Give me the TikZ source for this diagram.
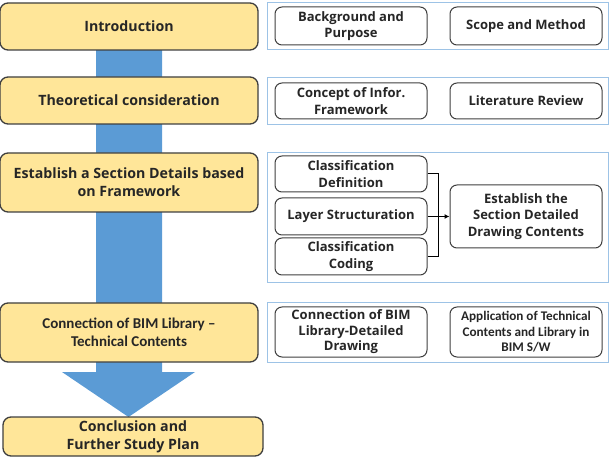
\documentclass[tikz,border=0pt]{standalone}
\usepackage{fontspec}
\setmainfont{Open Sans}
\newfontfamily\calfont{Carlito}
\usetikzlibrary{arrows.meta}
\definecolor{ybox}{HTML}{FFE699}
\definecolor{yline}{HTML}{3F3F3F}
\definecolor{barblue}{HTML}{5B9BD5}
\definecolor{panelline}{HTML}{9DC3E6}
\definecolor{txt}{HTML}{262626}
\begin{document}
\begin{tikzpicture}[x=1pt,y=-1pt,
  leftbox/.style={draw=yline,line width=1.3pt,fill=ybox,rounded corners=8pt,
    minimum width=258pt,align=center,inner sep=0pt,text=txt,
    font=\fontsize{14.2}{18}\selectfont\bfseries},
  panelbox/.style={draw=panelline,line width=1pt,fill=white,minimum width=341pt,inner sep=0pt},
  innerbox/.style={draw=yline,line width=1pt,fill=white,rounded corners=7pt,
    minimum width=152pt,align=center,inner sep=0pt,text=txt,
    font=\fontsize{13}{16.5}\selectfont\bfseries},
  linkline/.style={draw=black,line width=1pt}]
\useasboundingbox (0,0) rectangle (611,457);
% blue arrow
\fill[barblue] (96,40) -- (96,372) -- (62,372) -- (128.5,417) -- (195,372) -- (162,372) -- (162,40) -- cycle;
% left steps
\node[leftbox,minimum height=47pt] (intro) at (129,26.5) {Introduction};
\node[leftbox,minimum height=47pt] (theo) at (129,100.5) {Theoretical consideration};
\node[leftbox,minimum height=59pt] (estab) at (129,182.5) {Establish a Section Details based\\on Framework};
\node[leftbox,minimum height=59pt,font=\calfont\fontsize{15}{18}\selectfont\bfseries] (cbim) at (129,332.5) {Connection of BIM Library –\\Technical Contents};
\node[leftbox,minimum height=39pt,minimum width=260pt] (concl) at (133,436.5) {Conclusion and\\Further Study Plan};
% panels
\node[panelbox,minimum height=47pt] (p1) at (437.5,26.5) {};
\node[panelbox,minimum height=47pt] (p2) at (437.5,101.5) {};
\node[panelbox,minimum height=130pt] (p3) at (437.5,218) {};
\node[panelbox,minimum height=59pt] (p4) at (437.5,332.5) {};
% inner boxes
\node[innerbox,minimum height=38pt] (bg) at (351,26) {Background and\\Purpose};
\node[innerbox,minimum height=38pt] (sm) at (526,26) {Scope and Method};
\node[innerbox,minimum height=36pt] (cif) at (351,101) {Concept of Infor.\\Framework};
\node[innerbox,minimum height=36pt] (lr) at (526,101) {Literature Review};
\node[innerbox,minimum height=36pt] (cd) at (351,174) {Classification\\Definition};
\node[innerbox,minimum height=37pt] (ls) at (351,216.5) {Layer Structuration};
\node[innerbox,minimum height=37pt] (cc) at (351,256.5) {Classification\\Coding};
\node[innerbox,minimum height=63pt] (est) at (526,216.5) {Establish the\\Section Detailed\\Drawing Contents};
\node[innerbox,minimum height=50pt,font=\fontsize{13}{15.5}\selectfont\bfseries] (cbl) at (351,332) {Connection of BIM\\Library-Detailed\\Drawing};
\node[innerbox,minimum height=50pt,font=\calfont\fontsize{13.2}{15.5}\selectfont\bfseries] (app) at (526,332) {Application of Technical\\Contents and Library in\\BIM S/W};
% connectors
\coordinate (jn) at (438,216.5);
\draw[linkline] (cd.east) -| (jn);
\draw[linkline] (cc.east) -| (jn);
\draw[linkline,-{Latex[length=5pt,width=5pt]}] (ls.east) -- (est.west);
\end{tikzpicture}
\end{document}
